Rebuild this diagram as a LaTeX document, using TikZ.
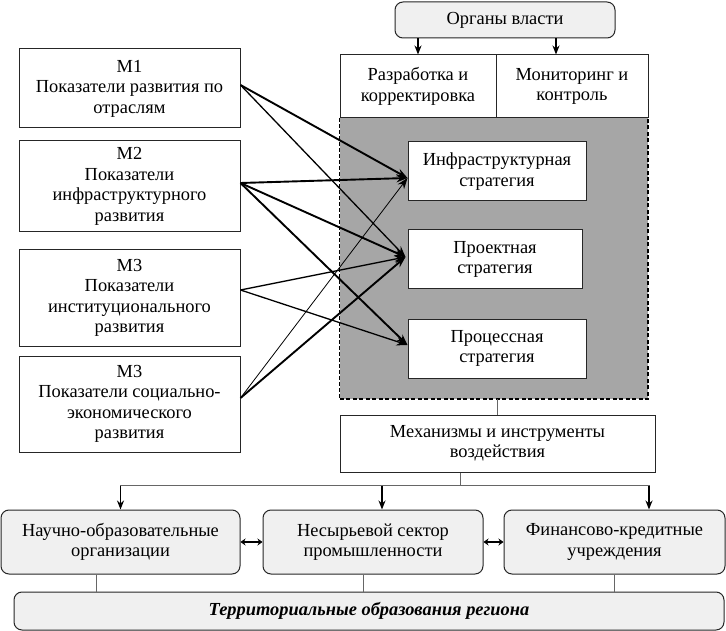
\documentclass[tikz,border=0pt]{standalone}
\usepackage{fontspec}
\setmainfont{Liberation Serif}
\usetikzlibrary{arrows.meta,calc}
\begin{document}
\begin{tikzpicture}[x=1pt,y=-1pt,
  txt/.style={font=\fontsize{18.4}{20.5}\selectfont, align=center, inner sep=0pt},
  mbox/.style={txt, draw=black!85, line width=1pt, fill=white, minimum width=221pt},
  sbox/.style={txt, draw=black!85, line width=1pt, fill=white},
  rbox/.style={txt, draw=black!85, line width=1pt, fill=black!6, rounded corners=8pt},
  region/.style={fill=black!35, inner sep=0pt},
  edgethin/.style={draw=black, line width=1.2pt, dash pattern=on 4pt off 2pt},
  edgethick/.style={draw=black, line width=2.4pt, dash pattern=on 4pt off 2.5pt},
  link/.style={draw=black!60, line width=0.9pt},
  tip/.style={-{Stealth[length=11pt,width=8pt]}},
  athick/.style={tip, line width=1.9pt},
  amed/.style={tip, line width=1.3pt},
  athin/.style={tip, line width=0.8pt},
  down/.style={-{Stealth[length=9pt,width=7pt]}, line width=1.6pt},
  both/.style={{Stealth[length=5pt,width=7pt]}-{Stealth[length=5pt,width=7pt]}, line width=1.6pt}
]
\useasboundingbox (0,0) rectangle (726,631);

% gray region
\node[region, minimum width=308pt, minimum height=281pt] (G) at (494,258.5) {};
\draw[edgethin] (G.north west) -- (G.south west);
\draw[edgethick] (G.south west) -- (G.south east) -- (G.north east);

% left boxes
\node[mbox, minimum height=79pt] (M1) at (129.5,88.5) {М1\\Показатели развития по\\отраслям};
\node[mbox, minimum height=91pt] (M2) at (129.5,186.5) {М2\\Показатели\\инфраструктурного\\развития};
\node[mbox, minimum height=96pt] (M3) at (129.5,298) {М3\\Показатели\\институционального\\развития};
\node[mbox, minimum height=96pt] (M4) at (129.5,404) {М3\\Показатели социально-\\экономического\\развития};

% top
\node[rbox, minimum width=220pt, minimum height=36pt] (O) at (505,20) {Органы власти};
\node[sbox, minimum width=156pt, minimum height=63pt] (L) at (418,86.5) {Разработка и\\корректировка};
\node[sbox, minimum width=152pt, minimum height=63pt] (R) at (572,86.5) {Мониторинг и\\контроль};

% strategies
\node[sbox, minimum width=178pt, minimum height=59pt] (I) at (497,171.5) {Инфраструктурная\\стратегия};
\node[sbox, minimum width=174pt, minimum height=59pt] (P) at (495,259.5) {Проектная\\стратегия};
\node[sbox, minimum width=178pt, minimum height=59pt] (C) at (497,348.5) {Процессная\\стратегия};

% mechanisms
\node[sbox, minimum width=315pt, minimum height=57pt] (K) at (497.5,443.5) {Механизмы и инструменты\\воздействия};

% bottom
\node[rbox, minimum width=239pt, minimum height=64pt] (N) at (120.5,542) {Научно-образовательные\\организации};
\node[rbox, minimum width=220pt, minimum height=64pt] (S) at (373,542) {Несырьевой сектор\\промышленности};
\node[rbox, minimum width=221pt, minimum height=64pt] (F) at (614.5,542) {Финансово-кредитные\\учреждения};
\node[rbox, minimum width=710pt, minimum height=38pt] (T) at (369,611) {\textbf{\textit{Территориальные образования региона}}};

% source / target points
\coordinate (s1) at ([yshift=3.5pt]M1.east);
\coordinate (s2) at ([yshift=3.5pt]M2.east);
\coordinate (s3) at ([yshift=8pt]M3.east);
\coordinate (s4) at ([yshift=6pt]M4.east);
\coordinate (tI) at ([yshift=-6.5pt]I.west);
\coordinate (tP) at ([yshift=2.5pt,xshift=-2pt]P.west);
\coordinate (tC) at ([yshift=3.5pt]C.west);

% crossing arrows
\draw[athick] (s1) -- (tI);
\draw[amed] (s1) -- (tP);
\draw[athick] (s2) -- (tI);
\draw[athick] (s2) -- (tP);
\draw[athick] (s2) -- (tC);
\draw[amed] (s3) -- (tP);
\draw[amed] (s3) -- (tC);
\draw[athin] (s4) -- (tI);
\draw[athick] (s4) -- (tP);

% authority arrows
\coordinate (oa) at (O.south -| L.north);
\coordinate (ob) at ([xshift=-16pt]R.north |- O.south);
\draw[down] (oa) -- (L.north);
\draw[down] (ob) -- ([xshift=-16pt]R.north);

% region to mechanisms
\draw[link] (G.south -| K.north) -- (K.north);

% mechanisms distribution
\coordinate (kb) at ([xshift=-37.5pt]K.south);
\coordinate (hb) at ($(kb)+(0,13)$);
\coordinate (hl) at (hb -| N.north);
\coordinate (hm) at ([xshift=9pt]hb -| S.north);
\coordinate (hr) at ([xshift=34.5pt]hb -| F.north);
\draw[link] (kb) -- (hb);
\draw[link] ([xshift=-0.5pt]hl) -- ([xshift=0.5pt]hr);
\draw[down] (hl) -- (N.north);
\draw[down] (hm) -- (hm |- S.north);
\draw[down] (hr) -- (hr |- F.north);

% horizontal double arrows
\draw[both] (N.east) -- (S.west);
\draw[both] (S.east) -- (F.west);

% to territorial
\draw[link] ([xshift=-24.5pt]N.south) -- ([xshift=-24.5pt]N.south |- T.north);
\draw[link] ([xshift=-10pt]S.south) -- ([xshift=-10pt]S.south |- T.north);
\draw[link] (F.south) -- (F.south |- T.north);
\end{tikzpicture}
\end{document}
